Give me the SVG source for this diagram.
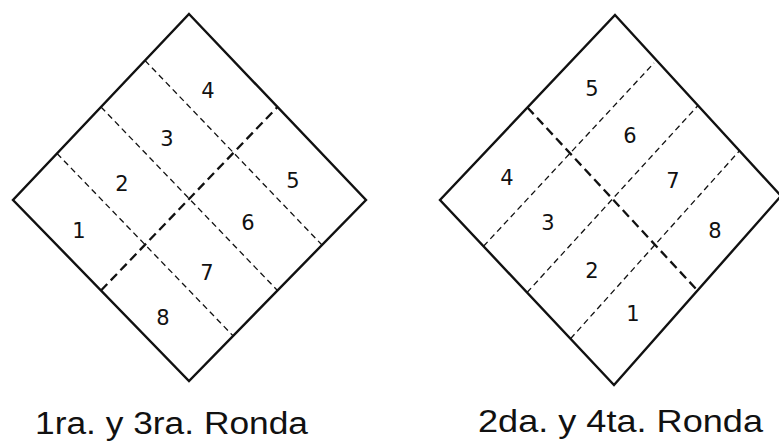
<svg xmlns="http://www.w3.org/2000/svg" width="779" height="441" viewBox="0 0 779 441">
<style>
.outer{fill:none;stroke:#111;stroke-width:2.4;stroke-linejoin:miter}
.thin{stroke:#111;stroke-width:1.3;stroke-dasharray:6 4;fill:none}
.thick{stroke:#111;stroke-width:2.3;stroke-dasharray:9 5;fill:none}
.num{font-family:"DejaVu Sans","Liberation Sans",sans-serif;font-size:21px;fill:#111;text-anchor:middle}
.cap{font-family:"Liberation Sans",Arial,sans-serif;fill:#111}
</style>
<rect width="779" height="441" fill="#fff"/>
<g id="diamond-left">
<polygon class="outer" points="189,14 366,200 189,381 13,200"/>
<g id="lines-left">
<line class="thin" x1="145" y1="60.5" x2="322" y2="245"/>
<line class="thin" x1="101" y1="107" x2="277.5" y2="290.5"/>
<line class="thin" x1="57" y1="153.5" x2="233" y2="335.75"/>
<line class="thick" x1="101" y1="290.5" x2="277.5" y2="107"/>
</g>
<text class="num" x="79" y="238">1</text>
<text class="num" x="122" y="191">2</text>
<text class="num" x="167" y="146">3</text>
<text class="num" x="208" y="98">4</text>
<text class="num" x="293" y="188">5</text>
<text class="num" x="248" y="230">6</text>
<text class="num" x="207" y="280">7</text>
<text class="num" x="163" y="325">8</text>
</g>
<g id="diamond-right">
<polygon class="outer" points="615,15 781,196 614,385 440,200"/>
<g id="lines-right">
<line class="thin" x1="483.5" y1="246.25" x2="654" y2="63"/>
<line class="thin" x1="527" y1="292.5" x2="698" y2="105.5"/>
<line class="thin" x1="570.5" y1="338.75" x2="739.5" y2="150.75"/>
<line class="thick" x1="527.5" y1="107.5" x2="697.5" y2="290.5"/>
</g>
<text class="num" x="633" y="321">1</text>
<text class="num" x="592" y="278">2</text>
<text class="num" x="548" y="230">3</text>
<text class="num" x="507" y="185">4</text>
<text class="num" x="592" y="96">5</text>
<text class="num" x="630" y="143">6</text>
<text class="num" x="673" y="188">7</text>
<text class="num" x="715" y="238">8</text>
</g>
<g id="label-left">
<text class="cap" x="35" y="433.5" font-size="31" textLength="273" lengthAdjust="spacingAndGlyphs">1ra. y 3ra. Ronda</text>
</g>
<g id="label-right">
<text class="cap" x="478" y="432" font-size="32" textLength="285" lengthAdjust="spacingAndGlyphs">2da. y 4ta. Ronda</text>
</g>
</svg>
